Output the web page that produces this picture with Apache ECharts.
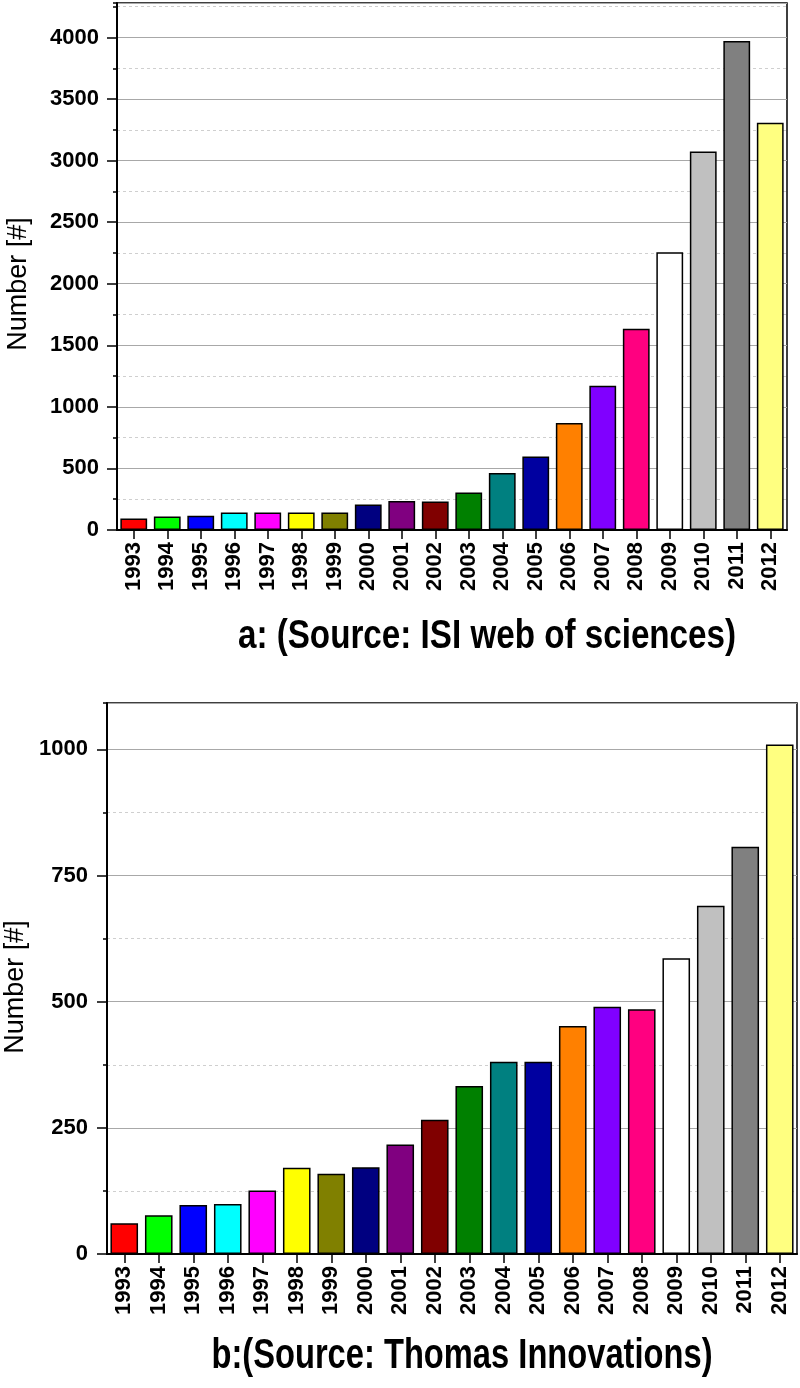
<!DOCTYPE html>
<html>
<head>
<meta charset="utf-8">
<script src="https://cdn.jsdelivr.net/npm/echarts@6/dist/echarts.min.js"></script>
<style>
html,body{margin:0;padding:0;background:#fff;}
#chart{width:800px;height:1388px;}
</style>
</head>
<body>
<div id="chart"></div>
<script>
// ---- data ----
const years = ['1993','1994','1995','1996','1997','1998','1999','2000','2001','2002',
               '2003','2004','2005','2006','2007','2008','2009','2010','2011','2012'];
const isiCounts = [93,109,115,142,142,142,142,208,235,231,304,463,596,868,1172,1635,2255,3074,3971,3308];
const thomasCounts = [61,77,97,99,126,171,159,172,217,266,333,381,381,452,490,485,586,690,807,1010];
const barColors = ['#FF0000','#00FF00','#0000FF','#00FFFF','#FF00FF','#FFFF00','#808000','#000080',
                   '#800080','#800000','#008000','#008080','#0000A0','#FF8000','#8000FF','#FF0080',
                   '#FFFFFF','#C0C0C0','#808080','#FFFF80'];
const titleA = 'a: (Source: ISI web of sciences)';
const titleB = 'b:(Source: Thomas Innovations)';
const yName = 'Number [#]';

const FONT = '"Liberation Sans", Arial, Helvetica, sans-serif';

function barData(vals){
  return vals.map((v,i)=>({value:v,itemStyle:{color:barColors[i]}}));
}

function xAxisCfg(gridIndex){
  return {
    type:'category', gridIndex, data:years, boundaryGap:true,
    axisLine:{show:true,lineStyle:{color:'#000',width:2}},
    axisTick:{show:true,alignWithLabel:true,length:9,lineStyle:{color:'#000',width:1.5}},
    axisLabel:{rotate:90,margin:12,fontSize:22,fontWeight:'bold',color:'#000',fontFamily:FONT,interval:0},
    splitLine:{show:false}
  };
}
function yMajor(gridIndex,max,interval,margin){
  return {
    type:'value', gridIndex, position:'left', min:0, max, interval,
    axisLine:{show:true,lineStyle:{color:'#000',width:2}},
    axisTick:{show:true,length:10,lineStyle:{color:'#000',width:1.5}},
    axisLabel:{margin,fontSize:22,fontWeight:'bold',color:'#000',fontFamily:FONT,showMaxLabel:false,
      formatter:v=> (v % interval === 0 ? String(v) : '')},
    splitLine:{show:true,lineStyle:{color:'#a8a8a8',width:1}}
  };
}
function yMinor(gridIndex,max,interval){
  return {
    type:'value', gridIndex, position:'left', min:0, max, interval,
    axisLine:{show:false},
    axisTick:{show:true,length:4,lineStyle:{color:'#000',width:1.5}},
    axisLabel:{show:false},
    splitLine:{show:true,lineStyle:{color:'#cfcfcf',width:1,type:[3,3]}}
  };
}

const chart = echarts.init(document.getElementById('chart'),null,{renderer:'canvas'});
chart.setOption({
  backgroundColor:'#fff',
  animation:false,
  grid:[
    {left:117,top:3,width:670,height:527,show:true,borderColor:'#000',borderWidth:1.5,backgroundColor:'transparent',containLabel:false},
    {left:107,top:703,width:690,height:551,show:true,borderColor:'#000',borderWidth:1.5,backgroundColor:'transparent',containLabel:false}
  ],
  xAxis:[xAxisCfg(0),xAxisCfg(1)],
  yAxis:[
    yMinor(0,4280,250),
    yMajor(0,4280,500,18),
    yMinor(1,1092,125),
    yMajor(1,1092,250,19)
  ],
  series:[
    {type:'bar',xAxisIndex:0,yAxisIndex:1,data:barData(isiCounts),barCategoryGap:'20%',
     itemStyle:{borderColor:'#000',borderWidth:1.5}},
    {type:'bar',xAxisIndex:1,yAxisIndex:3,data:barData(thomasCounts),barCategoryGap:'20%',
     itemStyle:{borderColor:'#000',borderWidth:1.5}}
  ],
  graphic:[
    {type:'text',x:19,y:284,rotation:Math.PI/2,
     style:{text:yName,font:'27px '+FONT,textAlign:'center',textVerticalAlign:'middle',fill:'#000'}},
    {type:'text',x:16,y:987,rotation:Math.PI/2,
     style:{text:yName,font:'27px '+FONT,textAlign:'center',textVerticalAlign:'middle',fill:'#000'}},
    {type:'text',x:487,y:637,scaleX:0.83,
     style:{text:titleA,font:'bold 40px '+FONT,textAlign:'center',textVerticalAlign:'middle',fill:'#000'}},
    {type:'text',x:462,y:1356,scaleX:0.76,
     style:{text:titleB,font:'bold 43px '+FONT,textAlign:'center',textVerticalAlign:'middle',fill:'#000'}}
  ]
});
</script>
</body>
</html>
